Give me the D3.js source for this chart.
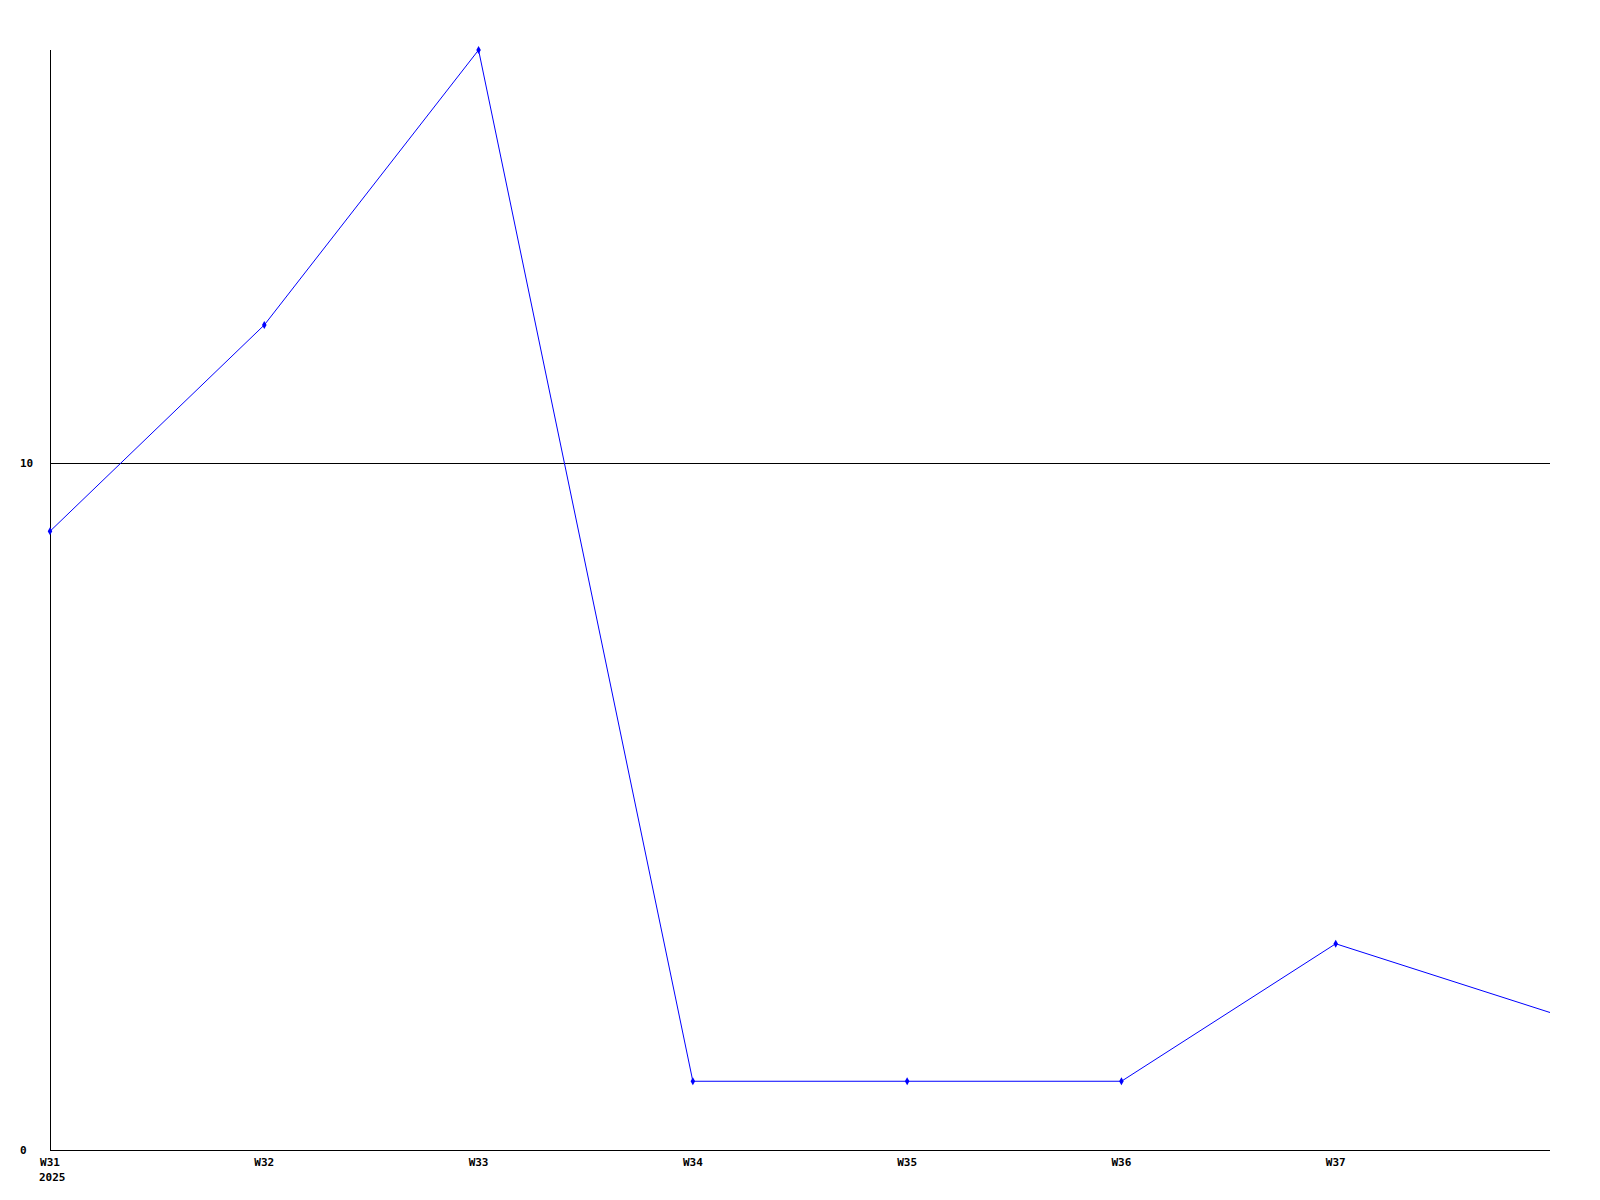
<!DOCTYPE html>
<html>
<head>
<meta charset="utf-8">
<script src="https://cdn.jsdelivr.net/npm/d3@7"></script>
<style>
  body { margin: 0; background: #fff; }
  text { font-family: "DejaVu Sans Mono", monospace; font-weight: bold; font-size: 11px; fill: #000; }
</style>
</head>
<body>
<svg id="chart" width="1600" height="1200"></svg>
<script>
// weekly values, W38 is only drawn as the tail of the line
const weeks = ["W31", "W32", "W33", "W34", "W35", "W36", "W37", "W38"];
const values = [9, 12, 16, 1, 1, 1, 3, 2];
const labelledWeeks = ["W31", "W32", "W33", "W34", "W35", "W36", "W37"];
const yearLabel = "2025";
const yTicks = [0, 10];

const plotLeft = 50, plotRight = 1550, plotTop = 50, plotBottom = 1150;

const svg = d3.select("#chart");

const x = d3.scalePoint()
  .domain(weeks)
  .range([plotLeft, plotRight]);

const y = d3.scaleLinear()
  .domain([0, 16])
  .range([plotBottom, plotTop]);

// grid line at 10
svg.selectAll("line.grid")
  .data(yTicks.filter(t => t > 0))
  .join("line")
  .attr("class", "grid")
  .attr("x1", plotLeft)
  .attr("x2", plotRight)
  .attr("y1", d => Math.round(y(d)) + 0.5)
  .attr("y2", d => Math.round(y(d)) + 0.5)
  .attr("stroke", "#000")
  .attr("stroke-width", 1);

// axes
svg.append("line")
  .attr("x1", plotLeft + 0.5).attr("x2", plotLeft + 0.5)
  .attr("y1", plotTop).attr("y2", plotBottom)
  .attr("stroke", "#000");
svg.append("line")
  .attr("x1", plotLeft).attr("x2", plotRight)
  .attr("y1", plotBottom + 0.5).attr("y2", plotBottom + 0.5)
  .attr("stroke", "#000");

// y labels
svg.selectAll("text.ylab")
  .data(yTicks)
  .join("text")
  .attr("class", "ylab")
  .attr("x", 20)
  .attr("y", d => y(d) + 4)
  .text(d => d);

// x labels
svg.selectAll("text.xlab")
  .data(labelledWeeks)
  .join("text")
  .attr("class", "xlab")
  .attr("x", d => x(d))
  .attr("y", plotBottom + 16)
  .attr("text-anchor", "middle")
  .text(d => d);

svg.append("text")
  .attr("x", x(weeks[0]) - 11)
  .attr("y", plotBottom + 31)
  .text(yearLabel);

// the series
const line = d3.line()
  .x((d, i) => x(weeks[i]))
  .y(d => y(d));

svg.append("path")
  .datum(values)
  .attr("d", line)
  .attr("fill", "none")
  .attr("stroke", "#0000ff")
  .attr("stroke-width", 1);

svg.selectAll("path.marker")
  .data(values.slice(0, labelledWeeks.length))
  .join("path")
  .attr("class", "marker")
  .attr("transform", (d, i) => `translate(${x(weeks[i])},${y(d)})`)
  .attr("d", d3.symbol(d3.symbolDiamond, 18))
  .attr("fill", "#0000ff");
</script>
</body>
</html>
